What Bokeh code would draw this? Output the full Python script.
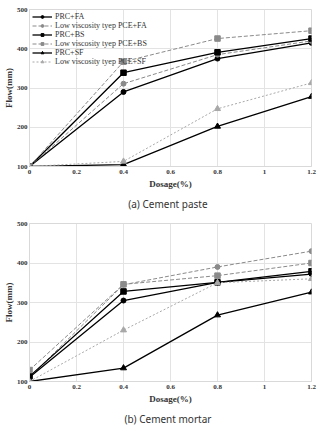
from bokeh.plotting import figure
from bokeh.layouts import column
from bokeh.models import FixedTicker, Title, Legend, LegendItem
from bokeh.embed import file_html
from bokeh.resources import INLINE

dosage = [0, 0.4, 0.8, 1.2]
x_ticks = [0, 0.2, 0.4, 0.6, 0.8, 1.0, 1.2]
x_tick_labels = ["0", "0.2", "0.4", "0.6", "0.8", "1", "1.2"]
y_ticks = [100, 200, 300, 400, 500]

series_names = ["PRC+FA", "Low viscosity tyep PCE+FA", "PRC+BS",
                "Low viscosity tyep PCE+BS", "PRC+SF", "Low viscosity tyep PCE+SF"]

paste_prc_fa = [100, 290, 375, 415]
paste_low_fa = [100, 311, 385, 420]
paste_prc_bs = [100, 339, 391, 426]
paste_low_bs = [100, 367, 426, 446]
paste_prc_sf = [100, 105, 202, 278]
paste_low_sf = [100, 113, 247, 313]

mortar_prc_fa = [111, 305, 351, 372]
mortar_low_fa = [111, 345, 390, 430]
mortar_prc_bs = [113, 328, 351, 379]
mortar_low_bs = [129, 346, 368, 400]
mortar_prc_sf = [100, 134, 268, 326]
mortar_low_sf = [100, 230, 350, 360]

styles = [
    dict(color="#000000", dash="solid", marker="circle", size=5, lw=1.3),
    dict(color="#8a8a8a", dash="4 2", marker="circle", size=5, lw=1.0),
    dict(color="#000000", dash="solid", marker="square", size=5.5, lw=1.3),
    dict(color="#8a8a8a", dash="4 2", marker="square", size=5.5, lw=1.0),
    dict(color="#000000", dash="solid", marker="triangle", size=6, lw=1.3),
    dict(color="#a8a8a8", dash="2 2", marker="triangle", size=6, lw=1.0),
]

SERIF = "Liberation Serif"


def make_fig(series, caption, legend, fh):
    p = figure(frame_width=282, frame_height=fh, x_range=(0, 1.2), y_range=(100, 500),
               output_backend="svg", toolbar_location=None,
               min_border_left=0, min_border_right=10, min_border_top=9,
               min_border_bottom=0)
    p.outline_line_color = "#d9d9d9"
    p.background_fill_color = "white"
    p.xaxis.ticker = FixedTicker(ticks=x_ticks)
    p.xaxis.major_label_overrides = {float(t): l for t, l in zip(x_ticks, x_tick_labels)}
    p.yaxis.ticker = FixedTicker(ticks=y_ticks)
    for ax in (p.xaxis[0], p.yaxis[0]):
        ax.axis_line_color = "#d9d9d9"
        ax.major_tick_line_color = None
        ax.minor_tick_line_color = None
        ax.major_tick_out = 0
        ax.major_tick_in = 0
        ax.major_label_text_font = SERIF
        ax.major_label_text_font_style = "bold"
        ax.major_label_text_font_size = "7px"
        ax.major_label_text_color = "#333333"
        ax.axis_label_text_font = SERIF
        ax.axis_label_text_font_style = "bold"
        ax.axis_label_text_color = "#333333"
    p.xaxis.major_label_standoff = 3
    p.xaxis.axis_label_standoff = 2
    p.yaxis.major_label_standoff = 2
    p.yaxis.axis_label_standoff = 0
    p.xaxis.axis_label = "Dosage(%)"
    p.xaxis.axis_label_text_font_size = "9px"
    p.yaxis.axis_label = "Flow(mm)"
    p.yaxis.axis_label_text_font_size = "9px"
    p.xgrid.grid_line_color = "#e3e3e3"
    p.ygrid.grid_line_color = "#e3e3e3"

    items = []
    for name, ys, st in zip(series_names, series, styles):
        r1 = p.line(dosage, ys, line_color=st["color"], line_dash=st["dash"],
                    line_width=st["lw"])
        r2 = p.scatter(dosage, ys, marker=st["marker"], size=st["size"],
                       fill_color=st["color"], line_color=st["color"])
        items.append(LegendItem(label=name, renderers=[r1, r2]))

    if legend:
        lg = Legend(items=items, location="top_left")
        lg.label_text_font = SERIF
        lg.label_text_font_size = "8px"
        lg.label_text_color = "#333333"
        lg.label_height = 7
        lg.glyph_height = 7
        lg.glyph_width = 20
        lg.spacing = 0
        lg.padding = 1
        lg.margin = 3
        lg.label_standoff = 3
        lg.border_line_color = None
        lg.background_fill_alpha = 0
        p.add_layout(lg, "center")

    t = Title(text=caption, align="center", text_font="Noto Sans",
              text_font_size="10px", text_font_style="normal",
              text_color="#333333", standoff=7, offset=-8)
    p.add_layout(t, "below")
    return p


p1 = make_fig([paste_prc_fa, paste_low_fa, paste_prc_bs, paste_low_bs,
               paste_prc_sf, paste_low_sf], "(a)  Cement  paste", True, 157)
p2 = make_fig([mortar_prc_fa, mortar_low_fa, mortar_prc_bs, mortar_low_bs,
               mortar_prc_sf, mortar_low_sf], "(b)  Cement  mortar", False, 158)

layout = column(p1, p2, spacing=0)
open("out.html", "w").write(file_html(layout, INLINE))
